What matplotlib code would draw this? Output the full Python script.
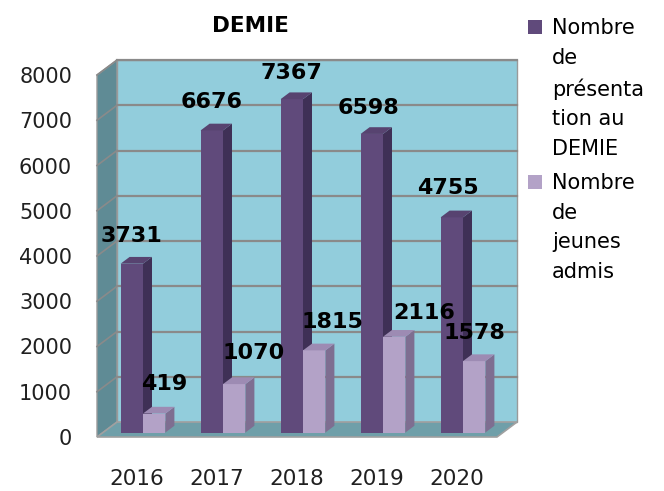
import matplotlib
matplotlib.use('Agg')
import matplotlib.pyplot as plt
from matplotlib.patches import Polygon, Rectangle

years = ['2016', '2017', '2018', '2019', '2020']
presentes = [3731, 6676, 7367, 6598, 4755]
admis = [419, 1070, 1815, 2116, 1578]
yticks = [0, 1000, 2000, 3000, 4000, 5000, 6000, 7000, 8000]
legend_labels = ['Nombre\nde\nprésenta\ntion au\nDEMIE', 'Nombre\nde\njeunes\nadmis']

# style
c_dark, c_dark_side, c_dark_top = '#604a7b', '#3f3056', '#574370'
c_light, c_light_side, c_light_top = '#b3a2c7', '#7e6e91', '#9d8bb3'
c_wall, c_side, c_floor, c_grid = '#92cddc', '#5f8b95', '#6f9fa9', '#8a8a8a'

DX, DY = 0.25, 331      # depth vector (x in categories, y in values)
f0, f1 = 0.3, 0.75      # bars depth range
w = 0.28

# label offsets in pixels (dx, dy)
off_dark = [(0, 28), (0, 28), (0, 26), (-3, 26), (-4, 29)]
off_light = [(10, 30), (19, 31), (18, 28), (30, 24), (0, 28)]

fig = plt.figure(figsize=(6.64, 4.91), dpi=100)
ax = fig.add_axes([97/664, 54/491, 400/664, 362/491])
ax.set_xlim(-0.5, 4.5)
ax.set_ylim(0, 8000)
for s in ax.spines.values():
    s.set_visible(False)
ax.patch.set_visible(False)

n = len(years)
x0, x1 = -0.5, n - 0.5

# back wall
ax.add_patch(Polygon([(x0+DX, DY), (x1+DX, DY), (x1+DX, 8000+DY), (x0+DX, 8000+DY)],
                     closed=True, fc=c_wall, ec='#9a9a9a', lw=1, clip_on=False, zorder=1))
# side wall
ax.add_patch(Polygon([(x0, 0), (x0+DX, DY), (x0+DX, 8000+DY), (x0, 8000)],
                     closed=True, fc=c_side, ec='#9a9a9a', lw=1, clip_on=False, zorder=1))
# gridlines
for v in yticks[1:]:
    ax.plot([x0+DX, x1+DX], [v+DY, v+DY], color=c_grid, lw=1.6, clip_on=False, zorder=2)
    ax.plot([x0, x0+DX], [v, v+DY], color=c_grid, lw=1.2, clip_on=False, zorder=2)
# floor
ax.add_patch(Polygon([(x0, 0), (x1, 0), (x1+DX, DY), (x0+DX, DY)],
                     closed=True, fc=c_floor, ec='#a0a0a0', lw=1.2, clip_on=False, zorder=3))


def bar3d(xl, h, fc, sc, tc):
    bx = xl + f0*DX
    ax.bar(bx, h, width=w, bottom=f0*DY, align='edge', color=fc, clip_on=False, zorder=4)
    xr = xl + w
    ax.add_patch(Polygon([(xr+f0*DX, f0*DY), (xr+f1*DX, f1*DY), (xr+f1*DX, h+f1*DY), (xr+f0*DX, h+f0*DY)],
                         closed=True, fc=sc, ec='none', clip_on=False, zorder=4))
    ax.add_patch(Polygon([(xl+f0*DX, h+f0*DY), (xr+f0*DX, h+f0*DY), (xr+f1*DX, h+f1*DY), (xl+f1*DX, h+f1*DY)],
                         closed=True, fc=tc, ec='none', clip_on=False, zorder=4))


for i in range(n):
    bar3d(i - w, presentes[i], c_dark, c_dark_side, c_dark_top)
    bar3d(i, admis[i], c_light, c_light_side, c_light_top)

for i in range(n):
    ax.annotate(str(presentes[i]), xy=(i - w/2 + f0*DX, presentes[i] + f0*DY),
                xytext=off_dark[i], textcoords='offset pixels', ha='center', va='center',
                fontsize=16, fontweight='bold', zorder=6, annotation_clip=False)
    ax.annotate(str(admis[i]), xy=(i + w/2 + f0*DX, admis[i] + f0*DY),
                xytext=off_light[i], textcoords='offset pixels', ha='center', va='center',
                fontsize=16, fontweight='bold', zorder=6, annotation_clip=False)

ax.set_yticks(yticks)
ax.set_yticklabels([str(v) for v in yticks], fontsize=15, color='#202020')
ax.set_xticks(range(n))
ax.set_xticklabels(years, fontsize=15.5, color='#202020')
ax.tick_params(axis='y', length=0, pad=18)
ax.tick_params(axis='x', length=0, pad=23)

fig.text(250/664, 1 - 26/491, 'DEMIE', ha='center', va='center', fontsize=15.5, fontweight='bold')

# legend
colors = [c_dark, c_light]
tops = [18, 173]
for lab, col, t in zip(legend_labels, colors, tops):
    fig.patches.append(Rectangle((528/664, 1 - (t+16)/491), 14/664, 14/491,
                                 transform=fig.transFigure, fc=col, ec='none'))
    fig.text(552/664, 1 - t/491, lab, ha='left', va='top', fontsize=15, linespacing=1.6)

fig.savefig('out.png', dpi=100)
